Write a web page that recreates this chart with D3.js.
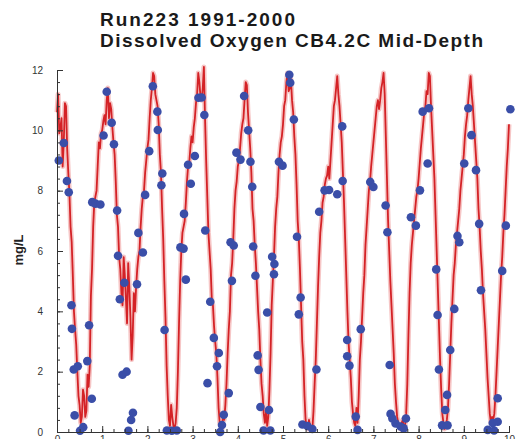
<!DOCTYPE html>
<html>
<head>
<meta charset="utf-8">
<script src="https://cdn.jsdelivr.net/npm/d3@7"></script>
<style>
  body { margin: 0; background: #fff; }
  svg { display: block; font-family: "Liberation Sans", Arial, sans-serif; }
  .tick text { fill: #333; font-size: 10px; }
</style>
</head>
<body>
<div id="chart"></div>
<script>
// model output, one value every 0.025 yr
var modelStep = 0.025;
var modelDO = [
  10.6, 11.2, 9.9, 10.1, 10.4, 8.8, 9.6, 10.9, 10.8, 9.4, 8.6, 7.9, 6.8, 6.3, 5.2, 4.0, 3.4, 2.9, 2.0, 1.2,
  0.9, 0.3, 0.5, 1.4, 1.2, 0.5, 0.7, 1.9, 1.5, 2.2, 4.5, 5.4, 6.8, 7.6, 7.8, 8.0, 8.8, 9.6, 9.4, 9.9,
  10.0, 10.3, 10.5, 10.2, 11.0, 11.4, 10.4, 10.9, 10.7, 10.1, 9.6, 9.2, 8.3, 7.2, 6.8, 5.8, 5.4, 4.6, 4.2, 5.8,
  5.2, 4.4, 3.6, 5.6, 4.8, 3.8, 2.4, 3.2, 4.6, 4.0, 4.8, 5.4, 5.8, 6.0, 6.8, 7.4, 7.8, 8.0, 8.6, 9.0,
  9.4, 9.7, 10.4, 11.0, 11.4, 11.9, 11.8, 11.2, 11.0, 10.8, 10.2, 9.2, 8.6, 7.4, 6.4, 5.0, 3.8, 2.2, 1.2, 0.4,
  0.2, 0.9, 0.5, 0.2, 0.1, 0.3, 0.8, 2.0, 3.6, 5.0, 6.0, 6.6, 6.8, 7.0, 7.6, 8.3, 8.8, 8.9, 9.4, 9.8,
  9.6, 10.1, 10.4, 10.9, 11.2, 11.9, 11.6, 11.1, 11.0, 11.4, 12.1, 10.4, 9.0, 7.8, 6.6, 6.0, 5.4, 4.4, 4.2, 3.5,
  3.0, 2.6, 1.8, 0.8, 0.3, 0.2, 0.1, 0.6, 0.4, 0.9, 1.6, 2.6, 3.4, 4.0, 5.2, 5.6, 6.4, 7.4, 8.0, 8.3,
  8.8, 9.0, 9.4, 9.9, 10.2, 10.4, 11.0, 11.6, 11.5, 10.6, 10.0, 9.4, 8.6, 7.4, 7.0, 6.2, 5.6, 4.8, 4.0, 3.4,
  2.4, 1.6, 1.2, 0.6, 0.3, 0.7, 0.2, 0.5, 1.4, 2.6, 4.2, 5.0, 5.8, 6.8, 7.4, 7.8, 8.6, 9.2, 9.6, 9.8,
  10.2, 10.8, 11.0, 11.6, 11.9, 11.3, 11.4, 11.7, 11.0, 10.6, 9.8, 9.2, 8.2, 7.0, 6.4, 5.4, 4.2, 3.0, 2.4, 1.2,
  0.4, 0.2, 0.1, 0.4, 0.2, 0.1, 0.1, 0.7, 1.6, 2.4, 3.6, 4.8, 5.8, 6.6, 7.0, 7.6, 7.8, 8.2, 8.4, 8.5,
  8.8, 8.4, 9.0, 9.6, 10.2, 10.8, 11.0, 11.4, 11.8, 11.2, 10.8, 10.2, 9.6, 8.6, 7.6, 6.4, 5.2, 4.0, 3.0, 2.4,
  1.8, 1.0, 0.6, 0.3, 0.2, 0.8, 0.3, 1.2, 2.4, 3.0, 3.8, 4.6, 5.2, 6.2, 6.8, 7.4, 8.0, 8.3, 8.8, 9.2,
  9.6, 10.0, 10.4, 10.8, 11.0, 10.7, 11.0, 11.4, 11.6, 11.9, 11.2, 9.8, 8.4, 7.0, 6.0, 5.0, 4.2, 3.4, 2.6, 1.6,
  1.0, 0.5, 0.3, 0.2, 0.1, 0.3, 0.4, 0.1, 0.2, 0.6, 1.6, 3.2, 4.6, 5.6, 6.2, 6.6, 7.0, 7.4, 7.8, 8.0,
  8.4, 8.9, 9.4, 9.8, 10.2, 10.6, 10.8, 11.3, 11.2, 11.9, 11.8, 10.8, 10.0, 9.2, 8.4, 7.2, 6.0, 4.8, 3.6, 2.4,
  1.4, 0.6, 0.3, 0.1, 0.2, 0.4, 0.8, 1.6, 2.6, 3.6, 4.4, 5.2, 5.6, 6.2, 6.6, 7.0, 7.4, 8.0, 8.4, 8.8,
  9.2, 9.8, 10.2, 10.5, 11.0, 11.4, 11.8, 11.2, 10.8, 10.2, 9.6, 9.0, 8.4, 7.4, 6.8, 6.0, 5.4, 4.6, 4.0, 3.4,
  2.6, 1.8, 1.2, 0.6, 0.3, 0.5, 0.4, 0.6, 1.2, 2.0, 2.8, 3.6, 4.4, 5.2, 5.8, 6.6, 7.2, 8.0, 8.8, 9.4, 10.2
];

// observations (years since start, mg/L)
var obsTime = [
  0.04, 0.15, 0.22, 0.26, 0.32, 0.33, 0.37, 0.46, 0.39, 0.51, 0.58, 0.67, 0.71, 0.77, 0.78, 0.85, 0.96,
  1.03, 1.10, 1.21, 1.26, 1.33, 1.35, 1.39, 1.49, 1.45, 1.54, 1.58, 1.64, 1.68, 1.77, 1.80, 1.90, 1.95,
  2.04, 2.12, 2.22, 2.23, 2.33, 2.31, 2.38, 2.43, 2.54, 2.65, 2.73, 2.80, 2.81, 2.85, 2.90, 2.96,
  3.05, 3.13, 3.20, 3.26, 3.28, 3.39, 3.47, 3.54, 3.58, 3.33, 3.80, 3.69, 3.65, 3.61, 3.84, 3.91, 3.87, 3.97,
  4.06, 4.14, 4.23, 4.28, 4.32, 4.34, 4.39, 4.44, 4.46, 4.50, 4.69, 4.57, 4.72, 4.65, 4.76, 4.81, 4.80, 4.91, 4.99,
  5.14, 5.16, 5.24, 5.31, 5.39, 5.35, 5.43, 5.54, 5.65, 5.74, 5.80, 5.92, 6.02,
  6.20, 6.32, 6.31, 6.42, 6.42, 6.47, 6.61, 6.65, 6.72, 6.93, 7.00,
  7.27, 7.31, 7.36, 7.38, 7.42, 7.49, 7.60, 7.72, 7.67, 7.83, 7.94,
  8.03, 8.20, 8.09, 8.23, 8.39, 8.42, 8.45, 8.70, 8.79, 8.86, 8.90, 8.63, 8.59, 8.52, 8.64,
  9.01, 9.10, 9.17, 9.27, 9.34, 9.38, 9.53, 9.64, 9.75, 9.67, 9.75, 9.85, 9.93, 10.03
];
var obsDO = [
  9.0, 9.58, 8.32, 7.95, 4.2, 3.42, 2.07, 2.18, 0.55, 0.04, 0.16, 2.35, 3.54, 1.1, 7.62, 7.57, 7.54,
  9.83, 11.28, 10.25, 9.54, 7.34, 5.84, 4.4, 4.95, 1.9, 2.0, 0.04, 0.4, 0.64, 4.9, 6.6, 5.95, 7.86,
  9.31, 11.46, 10.62, 10.01, 8.57, 8.18, 3.38, 0.05, 0.04, 0.05, 6.12, 6.08, 7.23, 5.05, 8.86, 8.23,
  9.15, 11.08, 11.09, 10.51, 6.68, 4.32, 3.12, 2.18, 2.62, 1.62, 1.29, 0.57, 0.23, 0.0, 6.29, 6.18, 5.01, 9.26,
  9.03, 11.14, 10.0, 8.96, 8.13, 6.15, 5.18, 2.54, 2.06, 0.83, 0.73, 0.05, 0.05, 3.96, 5.81, 5.57, 5.23, 8.96, 8.83,
  11.84, 11.58, 10.36, 6.47, 4.46, 3.9, 0.25, 0.2, 0.1, 2.07, 7.3, 8.01, 8.02,
  7.88, 8.32, 10.13, 3.05, 2.51, 2.2, 0.51, 0.07, 3.41, 8.29, 8.12,
  7.51, 6.62, 2.22, 0.6, 0.45, 0.28, 0.18, 0.45, 0.12, 7.12, 6.84,
  8.01, 8.9, 10.62, 10.73, 5.39, 3.88, 2.07, 2.72, 4.08, 6.5, 6.29, 1.23, 0.73, 0.22, 0.22,
  8.9, 10.73, 9.84, 8.68, 6.9, 4.7, 0.07, 0.3, 0.34, 0.05, 1.12, 5.34, 6.84, 10.7
];

var yTicks = [0, 2, 4, 6, 8, 10, 12];
var xTicks = [0, 1, 2, 3, 4, 5, 6, 7, 8, 9, 10];
var titleLines = ["Run223 1991-2000", "Dissolved Oxygen CB4.2C Mid-Depth"];

var svgWidth = 520;
var svgHeight = 439;

var svg = d3.select("#chart")
  .append("svg")
  .attr("width", svgWidth)
  .attr("height", svgHeight);

var xScale = d3.scaleLinear().domain([0, 10]).range([57, 509]);
var yScale = d3.scaleLinear().domain([0, 12]).range([432, 70]);

// title
svg.append("text")
  .attr("x", 100).attr("y", 26)
  .attr("font-size", 19).attr("font-weight", "bold").attr("fill", "#1a1a1a")
  .attr("textLength", 195).attr("lengthAdjust", "spacing")
  .text(titleLines[0]);
svg.append("text")
  .attr("x", 100).attr("y", 47)
  .attr("font-size", 19).attr("font-weight", "bold").attr("fill", "#1a1a1a")
  .attr("textLength", 383).attr("lengthAdjust", "spacing")
  .text(titleLines[1]);

// y label
svg.append("text")
  .attr("transform", "translate(23, 250) rotate(-90)")
  .attr("text-anchor", "middle")
  .attr("font-size", 13).attr("font-weight", "bold").attr("fill", "#222")
  .text("mg/L");

// model line
var modelData = modelDO.map(function(v, i) { return { t: i * modelStep, v: v }; });
var line = d3.line()
  .x(function(d) { return xScale(d.t); })
  .y(function(d) { return yScale(d.v); });

svg.append("path")
  .datum(modelData)
  .attr("d", line)
  .attr("fill", "none")
  .attr("stroke", "#f0a0a0")
  .attr("stroke-width", 5)
  .attr("stroke-linejoin", "round")
  .attr("opacity", 0.6);

svg.append("path")
  .datum(modelData)
  .attr("d", line)
  .attr("fill", "none")
  .attr("stroke", "#d42226")
  .attr("stroke-width", 1.8)
  .attr("stroke-linejoin", "round");

// observations
var obsData = obsTime.map(function(t, i) { return { t: t, v: obsDO[i] }; });
svg.append("g")
  .selectAll("circle")
  .data(obsData)
  .enter()
  .append("circle")
  .attr("cx", function(d) { return xScale(d.t); })
  .attr("cy", function(d) { return yScale(d.v); })
  .attr("r", 4.3)
  .attr("fill", "#3a4ea8");

// axes, ticks pointing inward
var yMinor = d3.range(0, 12.01, 0.4);
var xMinor = d3.range(0, 10.01, 0.25);

var leftAxis = svg.append("g").attr("transform", "translate(57,0)");
leftAxis.call(d3.axisLeft(yScale).tickValues(yMinor).tickSize(-3).tickFormat(""));
leftAxis.append("g").call(d3.axisLeft(yScale).tickValues(yTicks).tickSize(-6).tickPadding(14));
leftAxis.selectAll(".domain").attr("stroke", "#333");
leftAxis.selectAll("line").attr("stroke", "#333");

var bottomAxis = svg.append("g").attr("transform", "translate(0,432)");
bottomAxis.call(d3.axisBottom(xScale).tickValues(xMinor).tickSize(-3).tickFormat(""));
bottomAxis.append("g").call(d3.axisBottom(xScale).tickValues(xTicks).tickSize(-6).tickPadding(4));
bottomAxis.selectAll(".domain").attr("stroke", "#333");
bottomAxis.selectAll("line").attr("stroke", "#333");
</script>
</body>
</html>
